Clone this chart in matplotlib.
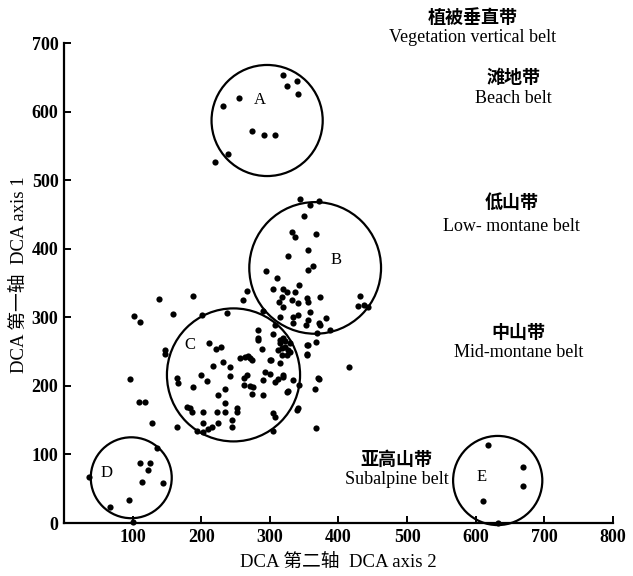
import matplotlib
matplotlib.use("Agg")
import matplotlib.pyplot as plt
from matplotlib.patches import Circle

plt.rcParams['font.family'] = ['Liberation Serif', 'Noto Sans CJK SC']

# ---- data (DCA axis 2, DCA axis 1) ----
group_a_x = [319, 325, 340, 341, 255, 232, 274, 292, 308, 239, 220]
group_a_y = [653, 637, 644, 625, 620, 608, 571, 566, 566, 538, 526]

group_d_x = [37, 67, 95, 111, 126, 122, 114, 144, 135, 101]
group_d_y = [67, 23, 33, 87, 87, 77, 60, 58, 109, 1]

group_e_x = [618, 669, 669, 611, 633]
group_e_y = [114, 82, 54, 32, 0]

group_b_x = [344, 372, 359, 350, 332, 337, 367, 356, 327, 363, 356, 294, 310,
             305, 319, 343, 336, 325, 318, 332, 341, 354, 356, 373, 319, 313,
             431, 429, 443, 267, 261, 290, 315, 334, 341, 359, 356, 382, 373,
             334, 308, 353, 388, 369, 305, 283, 283, 319, 315, 329, 312, 327,
             322, 354, 354, 289, 264, 271, 300, 318, 367, 322, 330, 318, 325,
             372, 437, 416, 372, 366, 367]
group_b_y = [472, 469, 464, 448, 424, 417, 421, 398, 389, 375, 369, 367, 357,
             341, 342, 347, 337, 337, 329, 325, 321, 328, 322, 329, 315, 322,
             331, 316, 315, 338, 325, 309, 300, 300, 303, 308, 296, 299, 289,
             292, 289, 289, 281, 277, 276, 281, 270, 270, 262, 262, 252, 252,
             257, 259, 246, 254, 242, 240, 238, 245, 264, 265, 250, 255, 245,
             292, 318, 228, 210, 195, 138]

group_c_x = [341, 343, 334, 327, 305, 308, 305, 290, 276, 274, 262, 262, 293,
             300, 290, 308, 312, 319, 302, 315, 274, 354,
             139, 188, 102, 111, 159, 201, 238, 147, 147, 211, 222, 229, 217,
             232, 242, 257, 96, 109, 118, 128, 165, 165, 166, 188, 200, 208,
             242, 235, 224, 235, 179, 187, 203, 203, 223, 235, 252, 224, 245,
             245, 216, 203, 194, 210, 252, 184,
             267, 271, 319, 325, 340, 268, 283, 370, 356, 315]
group_c_y = [168, 201, 208, 193, 160, 155, 134, 187, 198, 188, 211, 201, 220,
             218, 208, 205, 210, 216, 238, 233, 238, 245,
             327, 331, 302, 293, 305, 303, 306, 252, 246, 262, 254, 257, 229,
             235, 227, 240, 210, 177, 177, 146, 140, 211, 204, 198, 216, 207,
             214, 195, 187, 175, 169, 162, 162, 146, 162, 162, 162, 146, 150,
             140, 140, 133, 134, 137, 168, 168,
             216, 200, 213, 191, 165, 243, 267, 211, 260, 267]

# circles: (label, centre x, centre y, radius)
circle_labels = ['A', 'B', 'C', 'D', 'E']
circle_cx = [296, 366, 247, 98, 632]
circle_cy = [587, 372, 216, 66, 62]
circle_r = [81, 96, 97, 59, 65]
label_x = [286, 397, 184, 62, 609]
label_y = [617, 383, 260, 73, 67]

belt_cn = ['植被垂直带', '滩地带', '低山带', '中山带', '亚高山带']
belt_en = ['Vegetation vertical belt', 'Beach belt', 'Low- montane belt',
           'Mid-montane belt', 'Subalpine belt']
belt_x = [596, 655, 652, 662, 485]
belt_cn_y = [737, 650, 467, 278, 93]
belt_en_y = [708, 619, 432, 248, 63]

xticks = [100, 200, 300, 400, 500, 600, 700, 800]
yticks = [0, 100, 200, 300, 400, 500, 600, 700]

fig = plt.figure(figsize=(6.33, 5.76), dpi=100)
ax = fig.add_axes([0.1011, 0.092, 0.8673, 0.8333])
ax.set_xlim(0, 800)
ax.set_ylim(0, 700)

for xs, ys in [(group_a_x, group_a_y), (group_b_x, group_b_y),
               (group_c_x, group_c_y), (group_d_x, group_d_y),
               (group_e_x, group_e_y)]:
    ax.scatter(xs, ys, s=20, color='black', zorder=3, clip_on=False,
               linewidths=0)

for lab, cx, cy, r, lx, ly in zip(circle_labels, circle_cx, circle_cy,
                                  circle_r, label_x, label_y):
    ax.add_patch(Circle((cx, cy), r, fill=False, lw=1.6, color='black',
                        clip_on=False, zorder=2))
    ax.text(lx, ly, lab, ha='center', va='center', fontsize=12,
            family='Liberation Serif')

for cn, en, bx, cy_, ey in zip(belt_cn, belt_en, belt_x, belt_cn_y, belt_en_y):
    ax.text(bx, cy_, cn, ha='center', va='center', fontsize=13,
            family='Noto Sans CJK SC', weight='bold', clip_on=False)
    ax.text(bx, ey, en, ha='center', va='center', fontsize=13,
            family='Liberation Serif', clip_on=False)

ax.spines['top'].set_visible(False)
ax.spines['right'].set_visible(False)
ax.spines['left'].set_linewidth(1.6)
ax.spines['bottom'].set_linewidth(1.6)
ax.set_xticks(xticks)
ax.set_yticks(yticks)
ax.set_xticklabels([str(t) for t in xticks])
ax.set_yticklabels([str(t) for t in yticks])
ax.tick_params(direction='in', length=5, width=1.4, labelsize=13, pad=4)
for lbl in ax.get_xticklabels() + ax.get_yticklabels():
    lbl.set_family('Liberation Serif')
    lbl.set_weight('bold')

ax.set_xlabel('DCA 第二轴  DCA axis 2', fontsize=13.5, labelpad=6)
ax.set_ylabel('DCA 第一轴  DCA axis 1', fontsize=13.5)
ax.yaxis.set_label_coords(-0.066, 0.517)

fig.savefig('out.png', dpi=100)
